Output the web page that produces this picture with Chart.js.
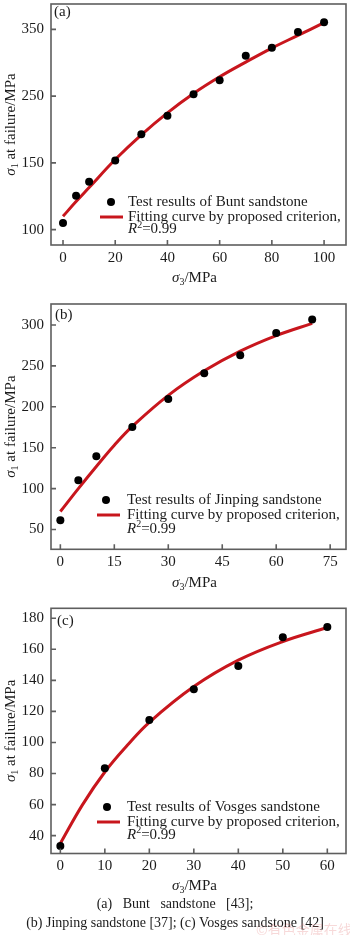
<!DOCTYPE html>
<html>
<head>
<meta charset="utf-8">
<script src="https://cdn.jsdelivr.net/npm/chart.js@4.4.1/dist/chart.umd.min.js"></script>
<style>
  body { margin: 0; width: 350px; height: 935px; position: relative; overflow: hidden; background: #fff;
         font-family: "Liberation Serif", "Times New Roman", serif; color: #1b1b1b; }
  .panel { position: absolute; left: 0; width: 350px; }
  canvas { display: block; }
  .cap { position: absolute; left: 0; width: 350px; text-align: center; font-size: 14px; line-height: 19px; white-space: pre; }
  .wm { position: absolute; left: 256px; top: 919px; font-family: "Noto Sans CJK SC", sans-serif; font-size: 14px;
        color: rgba(225, 120, 120, 0.28); white-space: nowrap; }
</style>
</head>
<body>
<div class="panel" style="top:0"><canvas id="chart-a" width="350" height="300"></canvas></div>
<div class="panel" style="top:300px"><canvas id="chart-b" width="350" height="300"></canvas></div>
<div class="panel" style="top:600px"><canvas id="chart-c" width="350" height="300"></canvas></div>
<div class="cap" style="top:894px">(a)   Bunt   sandstone   [43];</div>
<div class="cap" style="top:913px">(b) Jinping sandstone [37]; (c) Vosges sandstone [42]</div>
<div class="wm">©有色金属在线</div>

<script>
// (a) Bunt sandstone
const sig3Bunt = [0, 5, 10, 20, 30, 40, 50, 60, 70, 80, 90, 100];
const sig1Bunt = [59.8, 100.7, 121.9, 153.6, 192.9, 220.6, 252.7, 273.8, 310.4, 322.6, 345.9, 360.7];
const fitXBunt = [0, 5, 10, 20, 30, 40, 50, 60, 70, 80, 90, 100];
const fitYBunt = [70, 92, 113, 155, 192, 225, 254, 279, 301, 322, 341, 360];
const xTicksBunt = [0, 20, 40, 60, 80, 100];
const yTicksBunt = [50, 150, 250, 350];
const yTickLabelsBunt = ["100", "150", "250", "350"];

// (b) Jinping sandstone
const sig3Jin = [0, 5, 10, 20, 30, 40, 50, 60, 70];
const sig1Jin = [61.2, 110.1, 139.5, 175.3, 209.5, 240.9, 262.9, 290.2, 306.9];
const fitXJin = [0, 5, 10, 15, 20, 30, 40, 50, 60, 70];
const fitYJin = [72, 100, 127, 153, 176, 214, 244, 268, 287, 302];
const xTicksJin = [0, 15, 30, 45, 60, 75];
const yTicksJin = [50, 100, 150, 200, 250, 300];

// (c) Vosges sandstone
const sig3Vos = [0, 10, 20, 30, 40, 50, 60];
const sig1Vos = [33.4, 83.4, 114.5, 134.3, 149.3, 167.8, 174.4];
const fitXVos = [0, 5, 10, 15, 20, 30, 40, 50, 60];
const fitYVos = [35, 60, 81, 98, 113, 136, 153, 165, 174];
const xTicksVos = [0, 10, 20, 30, 40, 50, 60];
const yTicksVos = [40, 60, 80, 100, 120, 140, 160, 180];

const FONT = "Liberation Serif";
const RED = "#c8161d";
const INK = "#1b1b1b";

// draws a row of text pieces (italic sigma, subscripts...) centred on x
function drawRuns(ctx, runs, x, y, size) {
  const fontOf = (r) => `${r.italic ? "italic " : ""}${r.sub || r.sup ? Math.round(size * 0.68) : size}px "${FONT}"`;
  let w = 0;
  runs.forEach((r) => { ctx.font = fontOf(r); w += ctx.measureText(r.t).width; });
  let cx = x - w / 2;
  runs.forEach((r) => {
    ctx.font = fontOf(r);
    const dy = r.sub ? size * 0.28 : r.sup ? -size * 0.3 : 0;
    ctx.fillText(r.t, cx, y + dy);
    cx += ctx.measureText(r.t).width;
  });
}

function drawRunsLeft(ctx, runs, x, y, size) {
  let cx = x;
  runs.forEach((r) => {
    ctx.font = `${r.italic ? "italic " : ""}${r.sub || r.sup ? Math.round(size * 0.68) : size}px "${FONT}"`;
    const dy = r.sub ? size * 0.28 : r.sup ? -size * 0.3 : 0;
    ctx.fillText(r.t, cx, y + dy);
    cx += ctx.measureText(r.t).width;
  });
}

const decor = {
  id: "decor",
  afterDraw(chart, args, o) {
    const { ctx, chartArea: a, scales } = chart;
    ctx.save();
    // frame and inward ticks
    ctx.strokeStyle = "#5e5e5e";
    ctx.lineWidth = 1.6;
    ctx.strokeRect(a.left, a.top, a.right - a.left, a.bottom - a.top);
    ctx.beginPath();
    scales.x.ticks.forEach((t) => {
      const px = scales.x.getPixelForValue(t.value);
      ctx.moveTo(px, a.bottom); ctx.lineTo(px, a.bottom - 5);
    });
    scales.y.ticks.forEach((t) => {
      const py = scales.y.getPixelForValue(t.value);
      ctx.moveTo(a.left, py); ctx.lineTo(a.left + 5, py);
    });
    ctx.stroke();

    ctx.fillStyle = INK;
    ctx.textBaseline = "middle";
    ctx.textAlign = "left";
    ctx.font = `15px "${FONT}"`;
    ctx.fillText(o.letter, o.letterX, o.letterY);

    // axis titles
    drawRuns(ctx, [{ t: "σ", italic: true }, { t: "3", sub: true }, { t: "/MPa" }], (a.left + a.right) / 2 - 4, o.xTitleY, 15);
    ctx.save();
    ctx.translate(11, (a.top + a.bottom) / 2);
    ctx.rotate(-Math.PI / 2);
    drawRuns(ctx, [{ t: "σ", italic: true }, { t: "1", sub: true }, { t: " at failure/MPa" }], 0, 0, 15);
    ctx.restore();

    // legend
    const L = o.legend;
    ctx.fillStyle = "#000";
    ctx.beginPath();
    ctx.arc(L.dotX, L.dotY, 4, 0, Math.PI * 2);
    ctx.fill();
    ctx.strokeStyle = RED;
    ctx.lineWidth = 3;
    ctx.beginPath();
    ctx.moveTo(L.lineX0, L.lineY); ctx.lineTo(L.lineX1, L.lineY);
    ctx.stroke();
    ctx.fillStyle = INK;
    ctx.font = `15px "${FONT}"`;
    ctx.fillText(L.label, L.textX, L.dotY);
    ctx.fillText("Fitting curve by proposed criterion,", L.textX, L.lineY);
    drawRunsLeft(ctx, [{ t: "R", italic: true }, { t: "2", sup: true }, { t: "=0.99" }], L.textX, L.rY, 15);
    ctx.restore();
  },
};

function buildPanel(id, p) {
  const tickFont = { family: FONT, size: 15 };
  return new Chart(document.getElementById(id), {
    type: "scatter",
    data: {
      datasets: [
        {
          data: p.sig3.map((x, i) => ({ x, y: p.sig1[i] })),
          pointRadius: 4,
          pointBackgroundColor: "#000",
          pointBorderWidth: 0,
          showLine: false,
        },
        {
          data: p.fitX.map((x, i) => ({ x, y: p.fitY[i] })),
          showLine: true,
          borderColor: RED,
          borderWidth: 3,
          pointRadius: 0,
          tension: 0.4,
          fill: false,
        },
      ],
    },
    options: {
      responsive: false,
      animation: false,
      events: [],
      layout: { padding: { top: p.top, right: 3, left: 0, bottom: 0 } },
      plugins: { legend: { display: false }, tooltip: { enabled: false }, decor: p.decor },
      scales: {
        x: {
          type: "linear", min: p.xMin, max: p.xMax,
          afterBuildTicks: (s) => { s.ticks = p.xTicks.map((v) => ({ value: v })); },
          afterFit: (s) => { s.height = p.xAxisH; s.paddingLeft = 0; s.paddingRight = 0; },
          grid: { display: false, drawTicks: false },
          border: { display: false },
          ticks: { font: tickFont, color: INK, padding: 4, maxRotation: 0, autoSkip: false },
        },
        y: {
          type: "linear", min: p.yMin, max: p.yMax,
          afterBuildTicks: (s) => { s.ticks = p.yTicks.map((v) => ({ value: v })); },
          afterFit: (s) => { s.width = 51; s.paddingTop = 0; s.paddingBottom = 0; },
          grid: { display: false, drawTicks: false },
          border: { display: false },
          ticks: {
            font: tickFont, color: INK, padding: 7, autoSkip: false,
            callback: (v, i) => (p.yLabels ? p.yLabels[i] : String(v)),
          },
        },
      },
    },
    plugins: [decor],
  });
}

buildPanel("chart-a", {
  sig3: sig3Bunt, sig1: sig1Bunt, fitX: fitXBunt, fitY: fitYBunt,
  xTicks: xTicksBunt, yTicks: yTicksBunt, yLabels: yTickLabelsBunt,
  xMin: -4.6, xMax: 108.4, yMin: 27, yMax: 388,
  top: 1, xAxisH: 55,
  decor: {
    letter: "(a)", letterX: 54, letterY: 12, xTitleY: 278,
    legend: { label: "Test results of Bunt sandstone", dotX: 111, dotY: 202, lineX0: 100, lineX1: 123, lineY: 217, rY: 229.5, textX: 128 },
  },
});

buildPanel("chart-b", {
  sig3: sig3Jin, sig1: sig1Jin, fitX: fitXJin, fitY: fitYJin,
  xTicks: xTicksJin, yTicks: yTicksJin,
  xMin: -2.6, xMax: 79.4, yMin: 25.8, yMax: 325.7,
  top: 4, xAxisH: 50.7,
  decor: {
    letter: "(b)", letterX: 55, letterY: 15, xTitleY: 283,
    legend: { label: "Test results of Jinping sandstone", dotX: 106, dotY: 200, lineX0: 97, lineX1: 120, lineY: 215, rY: 229.3, textX: 127 },
  },
});

buildPanel("chart-c", {
  sig3: sig3Vos, sig1: sig1Vos, fitX: fitXVos, fitY: fitYVos,
  xTicks: xTicksVos, yTicks: yTicksVos,
  xMin: -2.1, xMax: 64.2, yMin: 28.5, yMax: 186.4,
  top: 8.3, xAxisH: 46.5,
  decor: {
    letter: "(c)", letterX: 57, letterY: 21, xTitleY: 286,
    legend: { label: "Test results of Vosges sandstone", dotX: 107, dotY: 207, lineX0: 97, lineX1: 120, lineY: 222, rY: 235, textX: 127 },
  },
});
</script>
</body>
</html>
